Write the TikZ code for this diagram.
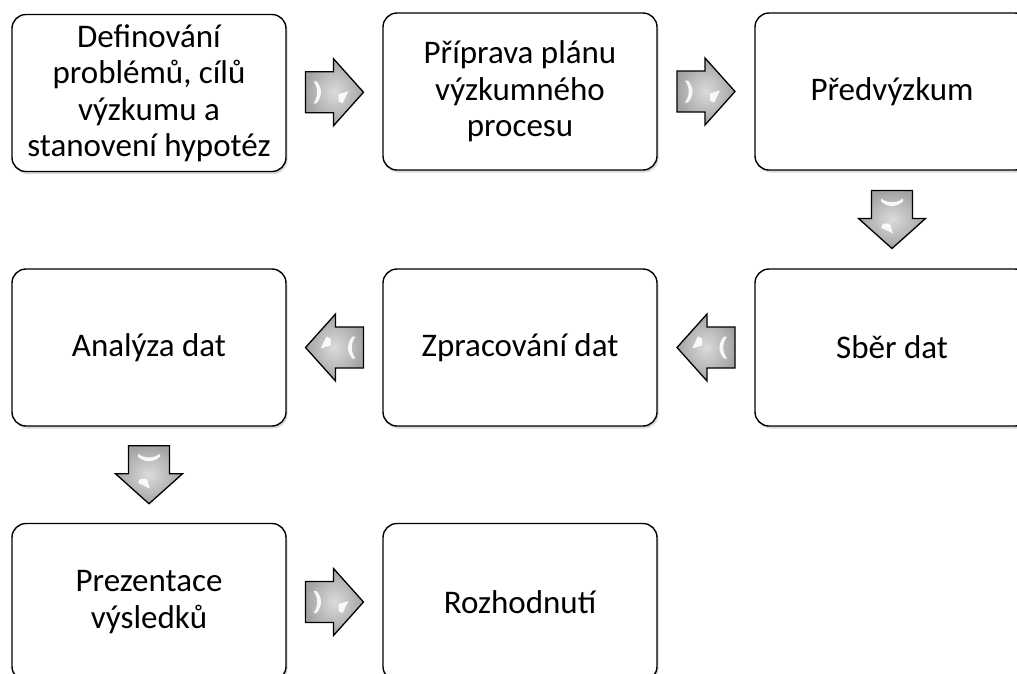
\documentclass[tikz,border=0pt]{standalone}
\usepackage{fontspec}
\setmainfont{Carlito}
\usetikzlibrary{shadows,calc}
\begin{document}
\begin{tikzpicture}[x=1pt,y=-1pt,
  stepbox/.style={draw=black, line width=1.4pt, rounded corners=14pt, fill=white,
    minimum width=274pt, minimum height=157pt, align=center, inner sep=4pt,
    font=\fontsize{33}{36.5}\selectfont,
    drop shadow={opacity=0.3, shadow xshift=1.5pt, shadow yshift=-2.5pt}},
  blockarrow/.pic={
    \shade[draw=black, line width=1.3pt, line join=miter, inner color=gray!28, outer color=gray!72]
      (-29,-20.5) -- (-1,-20.5) -- (-1,-33.5) -- (29,0) -- (-1,33.5) -- (-1,20.5) -- (-29,20.5) -- cycle;
    \fill[white, opacity=0.9] (-21,-11) .. controls (-16,-4) and (-16,4) .. (-21,11) -- (-18,11) .. controls (-12,4) and (-12,-4) .. (-18,-11) -- cycle;
    \fill[white, opacity=0.9] (4,2) -- (14,-1) .. controls (11,4) and (10,8) .. (8,11) -- (4,9) -- cycle;
  }]
\useasboundingbox (0,0) rectangle (1017,673);
\clip (0,0) rectangle (1017,673);

\node[stepbox] (b1) at (149,93) {Definování\\problémů, cílů\\výzkumu a\\stanovení hypotéz};
\node[stepbox] (b2) at (520,91.5) {Příprava plánu\\výzkumného\\procesu};
\node[stepbox] (b3) at (892,91.5) {Předvýzkum};
\node[stepbox] (b4) at (892,347.5) {Sběr dat};
\node[stepbox] (b5) at (520,347.5) {Zpracování dat};
\node[stepbox] (b6) at (149,347.5) {Analýza dat};
\node[stepbox] (b7) at (149,602) {Prezentace\\výsledků};
\node[stepbox] (b8) at (520,602) {Rozhodnutí};

\path ($(b1.east)!0.5!(b2.west)$) pic {blockarrow};
\path ($(b2.east)!0.5!(b3.west)$) pic {blockarrow};
\path ($(b3.south)!0.5!(b4.north)$) pic[rotate=-90] {blockarrow};
\path ($(b4.west)!0.5!(b5.east)$) pic[rotate=180] {blockarrow};
\path ($(b5.west)!0.5!(b6.east)$) pic[rotate=180] {blockarrow};
\path ($(b6.south)!0.5!(b7.north)$) pic[rotate=-90] {blockarrow};
\path ($(b7.east)!0.5!(b8.west)$) pic {blockarrow};
\end{tikzpicture}
\end{document}
